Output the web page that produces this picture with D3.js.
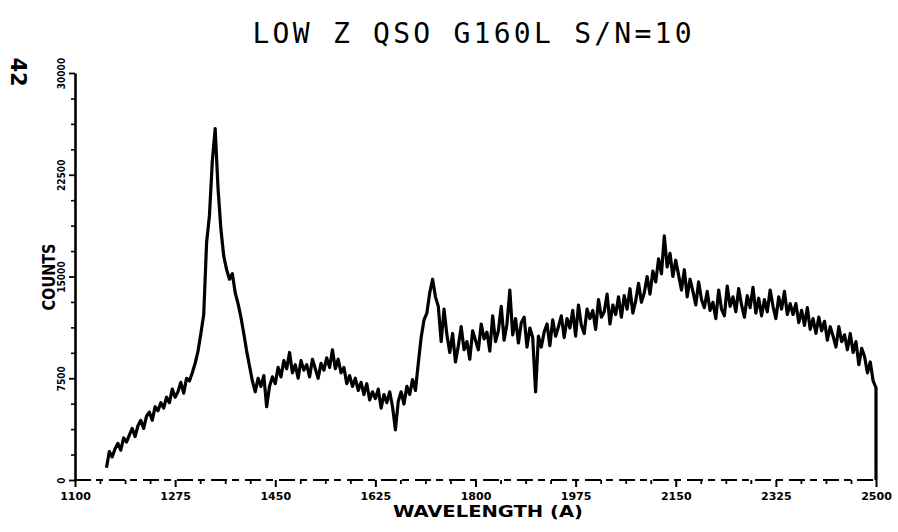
<!DOCTYPE html>
<html><head><meta charset="utf-8">
<script src="https://cdn.jsdelivr.net/npm/d3@7"></script>
<style>html,body{margin:0;padding:0;background:#fff;} svg{display:block}</style>
</head><body>
<svg id="chart" width="898" height="532"></svg>
<script>
const titleText = "LOW Z QSO G160L S/N=10";
const pageNumber = "42";
const xLabel = "WAVELENGTH (A)";
const yLabel = "COUNTS";
const xTicks = [1100, 1275, 1450, 1625, 1800, 1975, 2150, 2325, 2500];
const yTicks = [0, 7500, 15000, 22500, 30000];
const xMinorStep = 43.75;
const yMinorStep = 1875;
const lambdaStart = 1155;
const lambdaStep = 5;
const counts = [
  900, 2100, 1700, 2300, 2700, 2200, 3100, 2800, 3300, 3800,
  3200, 4000, 4400, 3800, 4700, 5000, 4400, 5400, 5100, 5700,
  5300, 6100, 5700, 6700, 6100, 6500, 7200, 6400, 7500, 7300,
  7900, 8600, 9500, 10800, 12200, 17500, 19500, 23500, 25900, 21500,
  18500, 16500, 15500, 14800, 15200, 13800, 13000, 12000, 10800, 9500,
  8400, 7300, 6500, 7500, 6900, 7700, 5400, 6900, 7600, 7100,
  8300, 7600, 8800, 8200, 9400, 7900, 8500, 7500, 8800, 8100,
  8500, 7600, 8900, 8200, 7500, 8600, 8100, 9000, 8300, 9600,
  8200, 8900, 7900, 8300, 7100, 7700, 6900, 7500, 6600, 7200,
  6300, 7100, 5900, 6500, 6000, 6700, 5300, 6300, 5700, 6500,
  5400, 3700, 5800, 6500, 5600, 6900, 6300, 7400, 6600, 8600,
  10500, 11800, 12300, 13800, 14800, 13500, 12800, 10200, 12600, 10700,
  9400, 10800, 8700, 9900, 11300, 9600, 10200, 8900, 11000, 10300,
  9600, 11500, 10400, 10900, 9500, 12100, 10200, 11000, 12800, 10300,
  11500, 14000, 10700, 11900, 10100, 11600, 12000, 9800, 11200, 10500,
  6500, 10600, 9800, 10900, 11500, 9900, 11800, 10600, 11300, 12100,
  10500, 11900, 11200, 12500, 10600, 12900, 11400, 10800, 12600, 11900,
  12500, 11100, 13300, 12000, 12400, 13700, 11500, 12900, 12200, 13500,
  12000, 13600, 12600, 14100, 12300, 13200, 14500, 13100, 13800, 15000,
  13700, 15400, 14600, 16300, 15200, 18000, 15700, 16700, 15000, 16200,
  15100, 14000, 15500, 13500, 14800, 13900, 12900, 14600, 13300, 12700,
  13900, 12500, 13100, 11900, 14000, 12600, 12100, 14300, 12800, 13500,
  12400, 14100, 12900, 12000, 13600, 12700, 14200, 12300, 13400, 12100,
  13300, 12400, 14000, 12800, 11900, 13500, 12600, 13900, 12200, 13000,
  12200, 13000, 11600, 12500, 11400, 12700, 11100, 11900, 10800, 12000,
  11000, 11700, 10300, 11300, 10600, 9800, 11300, 10200, 10700, 9600,
  10800, 9400, 10200, 8500, 9700, 9100, 7900, 8700, 7300, 6800
];
const endWavelength = 2500;
const endCount = 0;

const svg = d3.select("#chart");
const x = d3.scaleLinear().domain([1100, 2500]).range([75, 876]);
const y = d3.scaleLinear().domain([0, 30000]).range([480, 73]);

const data = counts.map((c, i) => ({w: lambdaStart + i * lambdaStep, c: c}));
data.push({w: endWavelength, c: endCount});

// Title
svg.append("text")
  .attr("x", 472).attr("y", 43)
  .attr("text-anchor", "middle")
  .attr("font-family", "DejaVu Sans Mono, monospace")
  .attr("font-size", 28)
  .attr("textLength", 439).attr("lengthAdjust", "spacing")
  .attr("fill", "#000")
  .text(titleText);

// Page number
svg.append("text")
  .attr("transform", "translate(11,72) rotate(90)")
  .attr("text-anchor", "middle")
  .attr("font-family", "DejaVu Sans, sans-serif")
  .attr("font-weight", "bold")
  .attr("font-size", 21)
  .attr("fill", "#000")
  .text(pageNumber);

// Y axis
const yMinor = d3.range(0, 30000 + 1, yMinorStep).filter(v => !yTicks.includes(v));
svg.append("g").attr("transform", "translate(75,0)")
  .call(d3.axisLeft(y).tickValues(yMinor).tickSize(4).tickFormat(""))
  .call(g => g.select(".domain").remove())
  .call(g => g.selectAll("line").attr("stroke", "#000").attr("stroke-width", 1.6));

const yAxisG = svg.append("g").attr("transform", "translate(75,0)")
  .call(d3.axisLeft(y).tickValues(yTicks).tickSize(6).tickSizeOuter(0).tickFormat(d3.format("d")));
yAxisG.select(".domain").attr("stroke", "#000").attr("stroke-width", 2.6);
yAxisG.selectAll("line").attr("stroke", "#000").attr("stroke-width", 1.8);
yAxisG.selectAll("text")
  .attr("x", null).attr("dy", null)
  .attr("transform", "translate(-10,0) rotate(-90)")
  .attr("text-anchor", "middle")
  .attr("font-family", "DejaVu Sans Condensed, DejaVu Sans, sans-serif")
  .attr("font-weight", "bold")
  .attr("font-size", 10)
  .attr("fill", "#000");

// X axis
const xMinor = d3.range(1100, 2500 + 1, xMinorStep).filter(v => !xTicks.some(t => Math.abs(t - v) < 1));
svg.append("g").attr("transform", "translate(0,480)")
  .call(d3.axisBottom(x).tickValues(xMinor).tickSize(4).tickFormat(""))
  .call(g => g.select(".domain").remove())
  .call(g => g.selectAll("line").attr("stroke", "#000").attr("stroke-width", 1.8));

const xAxisG = svg.append("g").attr("transform", "translate(0,480)")
  .call(d3.axisBottom(x).tickValues(xTicks).tickSize(7).tickSizeOuter(0).tickFormat(d3.format("d")));
xAxisG.select(".domain").remove();
xAxisG.selectAll("line").attr("stroke", "#000").attr("stroke-width", 2);
xAxisG.selectAll("text")
  .attr("y", 12)
  .attr("font-family", "DejaVu Sans, sans-serif")
  .attr("font-weight", "bold")
  .attr("font-size", 11)
  .attr("fill", "#000");

// dashed baseline
svg.append("line")
  .attr("x1", x(1100)).attr("x2", x(2500))
  .attr("y1", y(0)).attr("y2", y(0))
  .attr("stroke", "#000").attr("stroke-width", 1.8)
  .attr("stroke-dasharray", "16,5,7,6");

// Spectrum
const line = d3.line().x(d => x(d.w)).y(d => y(d.c)).curve(d3.curveLinear);
svg.append("path")
  .datum(data)
  .attr("d", line)
  .attr("fill", "none")
  .attr("stroke", "#000")
  .attr("stroke-width", 3.2)
  .attr("stroke-linejoin", "round");

// Axis labels
svg.append("text")
  .attr("x", 488).attr("y", 517)
  .attr("text-anchor", "middle")
  .attr("font-family", "DejaVu Sans Condensed, DejaVu Sans, sans-serif")
  .attr("font-weight", "bold")
  .attr("font-size", 16)
  .attr("textLength", 190).attr("lengthAdjust", "spacingAndGlyphs")
  .attr("fill", "#000")
  .text(xLabel);

svg.append("text")
  .attr("transform", "translate(55,277) rotate(-90)")
  .attr("text-anchor", "middle")
  .attr("font-family", "DejaVu Sans, sans-serif")
  .attr("font-weight", "bold")
  .attr("font-size", 17)
  .attr("textLength", 67).attr("lengthAdjust", "spacingAndGlyphs")
  .attr("fill", "#000")
  .text(yLabel);
</script>
</body></html>
